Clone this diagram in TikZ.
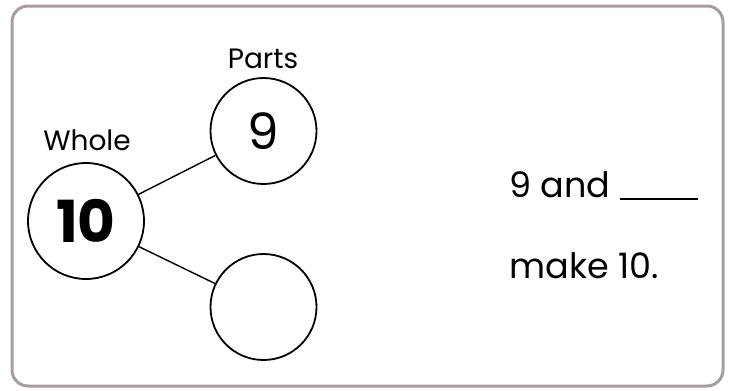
\documentclass[tikz,border=0pt]{standalone}
\usepackage{fontspec}
\setmainfont{Poppins}
\usetikzlibrary{positioning}
\definecolor{framegray}{RGB}{168,156,156}

\tikzset{
  bond/.style={circle,draw,line width=1.8pt,inner sep=0pt},
  link/.style={line width=1.4pt},
  label text/.style={anchor=base,font=\fontsize{28}{30}\selectfont},
  sentence/.style={anchor=base west,font=\fontsize{35}{38}\selectfont},
}

\begin{document}
\begin{tikzpicture}[x=1pt,y=-1pt]
\useasboundingbox (0,0) rectangle (734,391);

% Draw the frame
\draw[framegray,line width=3pt,rounded corners=16pt] (12,6) rectangle (723,386);

% Define the centres of the whole and the parts
\coordinate (W) at (86,221);
\coordinate (P1) at (263.5,131);
\coordinate (P2) at (263.5,307);

% Draw the circles
\node[bond,minimum size=116pt,font=\bfseries\fontsize{58}{60}\selectfont] (whole) at (W) {10};
\node[bond,minimum size=106pt,font=\fontsize{50}{52}\selectfont] (part1) at (P1) {9};
\node[bond,minimum size=106pt] (part2) at (P2) {};

% Draw the links
\draw[link] (whole) -- (part1);
\draw[link] (whole) -- (part2);

% Labels
\node[label text] (wholelabel) at (87,150) {Whole};
\node[label text] (partslabel) at (263,68) {Parts};

% Sentence
\node[sentence] (line1) at (506,197) {9 and \rule[-3pt]{78pt}{2.4pt}};
\node[sentence] (line2) at (506,278) {make 10.};
\end{tikzpicture}
\end{document}
